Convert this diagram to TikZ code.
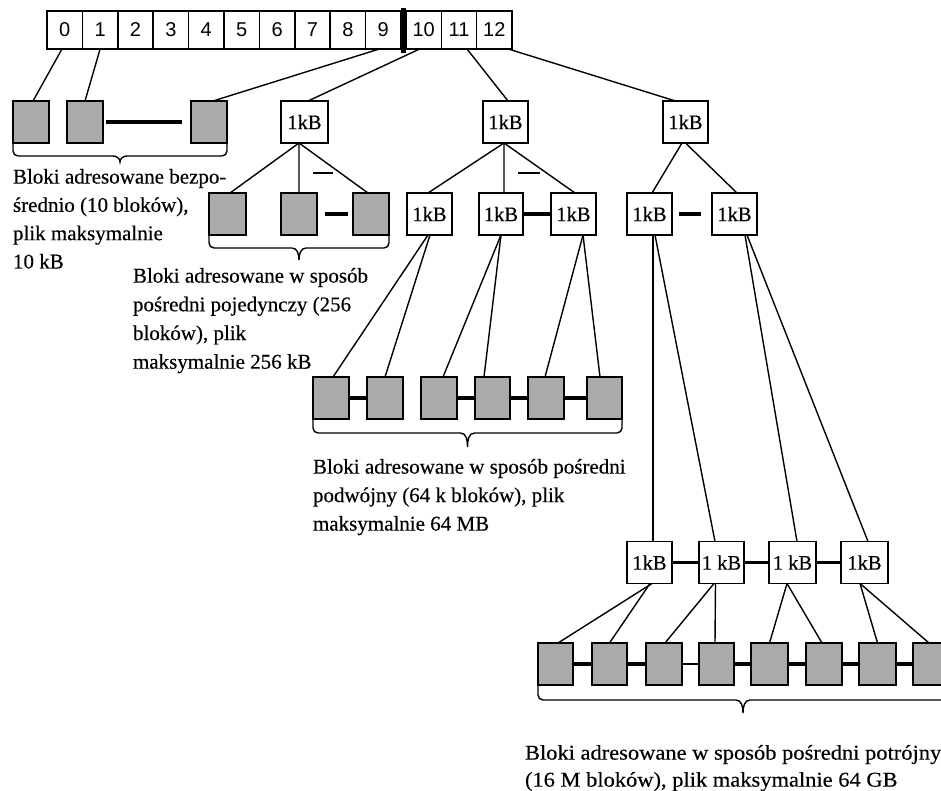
\documentclass[tikz,border=0pt]{standalone}
\usepackage{fontspec}
\setmainfont[FakeBold=0.3]{Liberation Serif}
\newfontfamily\cellfont{Liberation Sans}
\newfontfamily\widefont[FakeStretch=1.07,FakeBold=0.3]{Liberation Serif}
\usetikzlibrary{calc}
\definecolor{blockgray}{RGB}{170,170,170}

\tikzset{
  every node/.style={inner sep=0pt, outer sep=0pt},
  cell/.style={draw, line width=1.6bp, minimum width=35.4bp, minimum height=38bp,
    font=\cellfont\fontsize{20bp}{20bp}\selectfont},
  blk/.style={draw, fill=blockgray, line width=1.8bp, minimum width=36bp, minimum height=42bp},
  kb/.style={draw, fill=white, line width=1.8bp, minimum width=46bp, minimum height=42bp,
    font=\fontsize{20.5bp}{20.5bp}\selectfont},
  link/.style={line width=1.4bp},
  chain/.style={line width=3.8bp},
  bracket/.style={line width=1.4bp},
  caption/.style={align=left, anchor=north west},
}

% curly bracket under a row of blocks: left point, right point, drop to the bar, depth of the tip
\newcommand{\spanbrace}[4]{%
  \draw[bracket] let \p1=(#1), \p2=(#2), \p3=($(#1)!.5!(#2)$) in
    (\p1) -- (\x1,\y1-#3bp+5bp) to[out=-90,in=180] (\x1+5bp,\y1-#3bp)
    -- (\x3-7bp,\y1-#3bp) to[out=0,in=90] (\x3,\y1-#3bp-#4bp)
    to[out=90,in=180] (\x3+7bp,\y1-#3bp) -- (\x2-5bp,\y2-#3bp)
    to[out=0,in=-90] (\x2,\y2-#3bp+5bp) -- (\p2);
}

\begin{document}
\begin{tikzpicture}[x=1bp, y=-1bp]
  \clip (0,0) rectangle (941,791);
  \fill[white] (0,0) rectangle (941,791);

  % i-node address table
  \foreach \i in {0,...,9}
    \node[cell] (c\i) at ({47+35.4*(\i+0.5)},30) {\i};
  \foreach \i in {10,11,12}
    \node[cell, minimum width=35.33bp] (c\i) at ({406+35.33*(\i-10+0.5)},30) {\i};
  \node[fill=black, minimum width=5bp, minimum height=45bp] (bar) at (403.5,30.5) {};

  % direct blocks
  \node[blk] (d1) at (31,122) {};
  \node[blk] (d2) at (85,122) {};
  \node[blk] (d3) at (209,122) {};

  % first-level index blocks
  \node[kb, minimum width=47bp] (s1) at (304.5,122) {1kB};
  \node[kb, minimum width=45bp] (s2) at (505.5,122) {1kB};
  \node[kb, minimum width=45bp] (s3) at (685.5,122) {1kB};

  % second row
  \node[blk, minimum width=37bp] (g1) at (227.5,214) {};
  \node[blk] (g2) at (299,214) {};
  \node[blk] (g3) at (371,214) {};
  \node[kb, minimum width=45bp] (t1) at (429.5,214) {1kB};
  \node[kb, minimum width=44bp] (t2) at (501,214) {1kB};
  \node[kb, minimum width=45bp] (t3) at (573.5,214) {1kB};
  \node[kb, minimum width=45bp] (u1) at (649.5,214) {1kB};
  \node[kb, minimum width=45bp] (u2) at (734.5,214) {1kB};

  % double indirect data blocks
  \node[blk] (b1) at (331,398) {};
  \node[blk] (b2) at (385,398) {};
  \node[blk] (b3) at (439,398) {};
  \node[blk, minimum width=35bp] (b4) at (492.5,398) {};
  \node[blk] (b5) at (546,398) {};
  \node[blk, minimum width=35bp] (b6) at (604.5,398) {};

  % third-level index blocks
  \node[kb, minimum width=45bp] (v1) at (649.5,562.5) {1kB};
  \node[kb, minimum width=45bp] (v2) at (721.5,562.5) {1 kB};
  \node[kb, minimum width=47bp] (v3) at (792.5,562.5) {1 kB};
  \node[kb, minimum width=47bp] (v4) at (864.5,562.5) {1kB};

  % triple indirect data blocks
  \node[blk, minimum width=35bp] (w1) at (555.5,664) {};
  \node[blk, minimum width=35bp] (w2) at (609.5,664) {};
  \node[blk] (w3) at (664,664) {};
  \node[blk, minimum width=35bp] (w4) at (716.5,664) {};
  \node[blk, minimum width=37bp] (w5) at (769.5,664) {};
  \node[blk] (w6) at (824,664) {};
  \node[blk, minimum width=37bp] (w7) at (877.5,664) {};
  \node[blk, minimum width=35bp] (w8) at (930.5,664) {};

  % pointers from the table
  \draw[link] ([xshift=-2.7bp]c0.south) -- ([xshift=2bp]d1.north);
  \draw[link] (c1.south) -- (d2.north);
  \draw[link] ([xshift=-4bp]c9.south) -- ([xshift=4bp]d3.north);
  \draw[link] ([xshift=-4bp]c10.south) -- ([xshift=3.5bp]s1.north);
  \draw[link] ([xshift=8bp]c11.south) -- ([xshift=2.5bp]s2.north);
  \draw[link] ([xshift=14bp]c12.south) -- ([xshift=-10bp]s3.north);

  % single indirect
  \draw[link] ([xshift=-5.5bp]s1.south) -- ([xshift=2.5bp]g1.north);
  \draw[link] ([xshift=-5.5bp]s1.south) -- (g2.north);
  \draw[link] ([xshift=-5.5bp]s1.south) -- ([xshift=-3bp]g3.north);
  \draw[link] ([xshift=8.5bp,yshift=-30bp]s1.south) -- ++(20,0);

  % double indirect
  \draw[link] ([xshift=-1.5bp]s2.south) -- ([xshift=-1.5bp]t1.north);
  \draw[link] ([xshift=-1.5bp]s2.south) -- ([xshift=3bp]t2.north);
  \draw[link] ([xshift=-1.5bp]s2.south) -- ([xshift=1.5bp]t3.north);
  \draw[link] ([xshift=12.5bp,yshift=-30bp]s2.south) -- ++(22,0);

  \draw[link] ([xshift=-1.5bp]t1.south) -- ([xshift=2bp]b1.north);
  \draw[link] ([xshift=0.5bp]t1.south) -- (b2.north);
  \draw[link] (t2.south) -- ([xshift=4bp]b3.north);
  \draw[link] (t2.south) -- ([xshift=-8.5bp]b4.north);
  \draw[link] ([xshift=9.5bp]t3.south) -- ([xshift=-1bp]b5.north);
  \draw[link] ([xshift=9.5bp]t3.south) -- ([xshift=-4.5bp]b6.north);

  % triple indirect
  \draw[link] ([xshift=-3.5bp]s3.south) -- ([xshift=2.5bp]u1.north);
  \draw[link] (s3.south) -- ([xshift=2.5bp]u2.north);

  \draw[link] ([xshift=3.5bp]u1.south) -- ([xshift=3.5bp]v1.north);
  \draw[link] ([xshift=5.5bp]u1.south) -- ([xshift=-6.5bp]v2.north);
  \draw[link] ([xshift=10.5bp]u2.south) -- ([xshift=4.5bp]v3.north);
  \draw[link] ([xshift=12.5bp]u2.south) -- ([xshift=3.5bp]v4.north);

  \draw[link] ([xshift=2.5bp]v1.south) -- ([xshift=2.5bp]w1.north);
  \draw[link] ([xshift=0.5bp]v1.south) -- (w2.north);
  \draw[link] ([xshift=-7.5bp]v2.south) -- ([xshift=1bp]w3.north);
  \draw[link] ([xshift=-6bp]v2.south) -- ([xshift=-1.5bp]w4.north);
  \draw[link] ([xshift=-5.5bp]v3.south) -- (w5.north);
  \draw[link] ([xshift=-5.5bp]v3.south) -- ([xshift=-2bp]w6.north);
  \draw[link] ([xshift=-4.5bp]v4.south) -- (w7.north);
  \draw[link] ([xshift=-4.5bp]v4.south) -- ([xshift=-1.5bp]w8.north);

  % chains between neighbouring blocks
  \draw[chain, shorten <=3bp, shorten >=9bp] (d2) -- (d3);
  \draw[chain, shorten <=8bp, shorten >=5bp] (g2) -- (g3);
  \draw[chain] (t2) -- (t3);
  \draw[chain, shorten <=7bp, shorten >=11bp] (u1) -- (u2);
  \draw[chain] (b1) -- (b2);
  \draw[chain] (b3) -- (b4);
  \draw[chain] (b4) -- (b5);
  \draw[chain] (b5) -- (b6);
  \draw[chain] (v1) -- (v2);
  \draw[chain] (v2) -- (v3);
  \draw[chain] (v3) -- (v4);
  \draw[chain] (w1) -- (w2);
  \draw[chain] (w2) -- (w3);
  \draw[link] (w3) -- (w4);
  \draw[chain] (w4) -- (w5);
  \draw[chain] (w5) -- (w6);
  \draw[chain] (w6) -- (w7);
  \draw[chain] (w7) -- (w8);

  % brackets
  \spanbrace{d1.south west}{d3.south east}{13}{6}
  \spanbrace{g1.south west}{g3.south east}{13}{12}
  \spanbrace{b1.south west}{b6.south east}{14}{14}
  \spanbrace{w1.south west}{w8.south east}{15}{13}

  % descriptions
  \node[caption, font=\fontsize{21bp}{28.3bp}\selectfont] (cap1) at (13,169)
    {Bloki adresowane bezpo-\\średnio (10 bloków),\\plik maksymalnie\\10 kB};
  \node[caption, font=\fontsize{21bp}{28.7bp}\selectfont] (cap2) at (133,268)
    {Bloki adresowane w sposób\\pośredni pojedynczy (256\\bloków), plik\\maksymalnie 256 kB};
  \node[caption, font=\fontsize{21bp}{28.5bp}\selectfont] (cap3) at (313,459)
    {Bloki adresowane w sposób pośredni\\podwójny (64 k bloków), plik\\maksymalnie 64 MB};
  \node[caption, font=\widefont\fontsize{21bp}{27bp}\selectfont] (cap4) at (525,745)
    {Bloki adresowane w sposób pośredni potrójny\\(16 M bloków), plik maksymalnie 64 GB};
\end{tikzpicture}
\end{document}
